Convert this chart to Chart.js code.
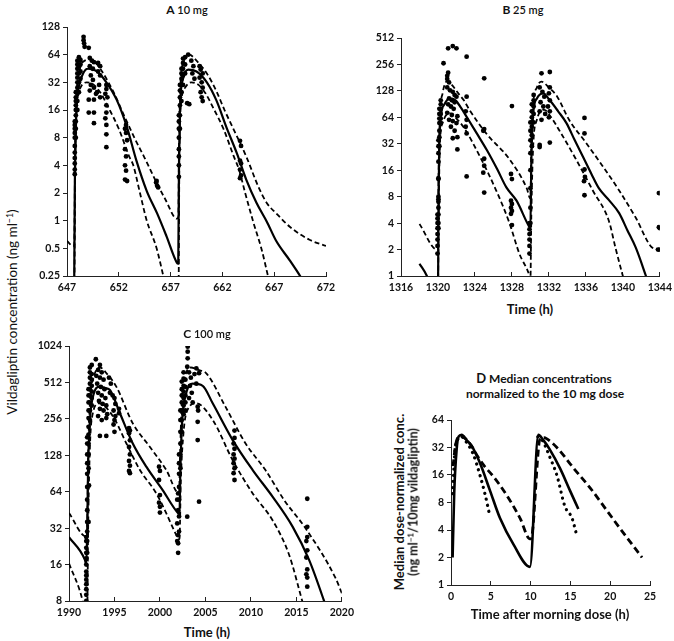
<!DOCTYPE html>
<html>
<head>
<meta charset="utf-8">
<script src="https://cdn.jsdelivr.net/npm/chart.js@4.4.0/dist/chart.umd.min.js"></script>
<style>
  body { margin: 0; background: #fff; }
  #page { position: relative; width: 674px; height: 641px; background: #fff; font-family: Lato, "Open Sans", sans-serif; color: #111; overflow: hidden; }
  .box { position: absolute; }
  .txt { position: absolute; white-space: nowrap; transform: translate(-50%, -50%); font-weight: bold; }
  .rot { transform: translate(-50%, -50%) rotate(-90deg); }
  sup { font-size: 65%; vertical-align: 0.45em; line-height: 0; }
</style>
</head>
<body>
<div id="page">
  <div class="box" id="boxA"><canvas id="chartA"></canvas></div>
  <div class="box" id="boxB"><canvas id="chartB"></canvas></div>
  <div class="box" id="boxC"><canvas id="chartC"></canvas></div>
  <div class="box" id="boxD"><canvas id="chartD"></canvas></div>

  <div class="txt" style="left:187px; top:9px; font-size:11px;"><span style="font-size:12px">A</span> <span style="font-weight:600">10 mg</span></div>
  <div class="txt" style="left:523px; top:9px; font-size:11px;"><span style="font-size:12px">B</span> <span style="font-weight:600">25 mg</span></div>
  <div class="txt" style="left:207px; top:333px; font-size:11px;"><span style="font-size:12px">C</span> <span style="font-weight:600">100 mg</span></div>
  <div class="txt" style="left:544px; top:378px; font-size:12px;"><span style="font-size:13px">D</span> Median concentrations</div>
  <div class="txt" style="left:545px; top:393px; font-size:12px;">normalized to the 10 mg dose</div>

  <div class="txt" style="left:530px; top:309px; font-size:13px;">Time (h)</div>
  <div class="txt" style="left:207px; top:632px; font-size:13px;">Time (h)</div>
  <div class="txt" style="left:550px; top:614px; font-size:13px;">Time after morning dose (h)</div>

  <div class="txt rot" style="left:12px; top:312px; font-size:13.5px; font-weight:normal;">Vildagliptin concentration (ng ml<sup>−1</sup>)</div>
  <div class="txt rot" style="left:399px; top:502px; font-size:13px;">Median dose-normalized conc.</div>
  <div class="txt rot" style="left:413px; top:502px; font-size:12.5px;">(ng ml<sup>−1</sup>/10mg vildagliptin)</div>
</div>

<script>
// ---------- A 10 mg ----------
const xTicksA = [647, 652, 657, 662, 667, 672];
const yTicksA = [0.25, 0.5, 1, 2, 4, 8, 16, 32, 64, 128];

const medianA = [[647.68,0.1],[647.75,2],[647.85,10],[648.0,22],[648.25,32],[648.6,41],[649.0,45],[649.5,44],[649.9,42],
  [650.8,32],[651.8,20.6],[652.8,10.3],[653.7,4.5],[654.7,2.1],[655.7,1.2],[656.6,0.68],[657.6,0.35],[657.74,0.34],
  [657.8,3],[657.9,16],[658.2,35],[658.7,44],[659.5,42],[660.5,32],[661.4,20.6],[662.4,10.3],[663.4,5.4],[664.3,2.8],
  [665.3,1.56],[666.3,0.97],[667.2,0.6],[668.5,0.37],[669.5,0.25],[670,0.2]];
const upperA = [[647,0.6],[647.6,0.53],[647.7,0.55],[647.78,5],[647.9,20],[648.2,42],[648.7,55],[649.3,57],[649.9,50],
  [650.5,40],[651.5,25],[652.5,14],[653.5,8],[654.5,4.8],[655.5,2.8],[656.5,1.7],[657.6,1.05],[657.75,1.1],[657.82,10],
  [657.95,30],[658.3,55],[658.8,64],[659.5,55],[660.5,40],[661.4,26],[662.2,16],[663,10.3],[664.3,5],[665.5,2.3],
  [666.3,1.55],[667.2,1.2],[668.5,0.86],[670.4,0.62],[672,0.53]];
const lowerA = [[647.7,0.1],[647.8,5],[647.95,18],[648.3,28],[648.9,32],[649.6,30],[650.3,24],[651,17],[652,10],[653,5],
  [653.4,4],[654,2.1],[654.7,1.0],[655.65,0.5],[656.3,0.25],[656.6,0.18],[657.75,0.1],[657.85,5],[658.0,18],[658.4,28],
  [659,32],[659.7,30],[660.4,24],[661.1,17],[662.1,10],[663.1,5],[663.6,3.6],[664.2,2.0],[665,0.95],[665.8,0.48],
  [666.4,0.25],[666.7,0.18]];
const obsA = [
  [647.75,3.2],[647.75,3.6],[647.75,4.2],[647.75,4.8],[647.75,5.5],[647.75,6.5],[647.75,8],[647.75,9],[647.75,10],[647.75,11],[647.75,12],
  [647.85,8],[647.85,10],[647.85,12],[647.85,14],[647.85,16],[647.85,18],[647.85,20],[647.85,22],[647.85,25],
  [648.0,16],[648.0,20],[648.0,24],[648.0,28],[648.0,32],[648.0,36],[648.0,40],[648.0,45],[648.0,50],[648.0,55],
  [648.15,25],[648.15,32],[648.15,40],[648.15,48],[648.15,55],[648.15,60],
  [648.3,35],[648.3,42],[648.3,50],[648.3,56],
  [648.6,100],[648.6,92],[648.65,85],[648.7,78],[649.1,76],
  [649.2,59],[649.4,55],[649.6,53],[649.2,48],[649.5,45],[649.3,38],[649.5,34],[649.3,30],[649.6,28],[649.2,26],[649.8,24],
  [649.1,20.7],[649.6,20.7],[649.1,15],[649.6,15],[649.6,11.5],
  [650.0,52],[650.2,48],[650.0,42],[650.2,38],[650.1,30],[649.9,25],[650.2,22],
  [650.8,30],[650.8,27],[650.7,24],[650.9,22],[650.8,18],[650.8,15],[650.7,13],[650.8,11],[650.8,8.7],[650.8,6.3],
  [652.7,11],[652.6,10],[652.7,9],[652.8,7.5],[652.6,6],[652.7,5],[652.6,4],[652.7,3.5],[652.6,2.8],[652.8,2.7],
  [655.6,2.6],[655.7,2.4],[655.8,2.3],[655.65,2.7],
  [657.8,3],[657.8,4],[657.8,5],[657.8,6],[657.8,8],[657.8,10],[657.8,12],[657.8,14],
  [657.9,10],[657.9,14],[657.9,18],[657.9,22],[657.9,26],[657.9,30],
  [658.05,20],[658.05,25],[658.05,30],[658.05,35],[658.05,40],[658.05,45],
  [658.2,30],[658.2,38],[658.2,45],[658.2,52],[658.2,58],
  [658.4,40],[658.4,50],[658.4,60],[658.7,64],[658.6,19],[658.8,18.5],
  [659.0,55],[659.2,48],[659.1,40],[659.3,35],
  [659.8,48],[659.9,44],[660.1,40],[659.8,36],[660.0,32],[660.1,28],[659.9,25],[660.0,22],[660.1,20],
  [663.7,7.4],[663.8,6.5],[663.7,4.5],[663.8,4.2],[663.7,3.6],[663.8,3.1],[663.7,2.9]
];

// ---------- B 25 mg ----------
const xTicksB = [1316, 1320, 1324, 1328, 1332, 1336, 1340, 1344];
const yTicksB = [1, 2, 4, 8, 16, 32, 64, 128, 256, 512];

const medianB = [[1318.0,1.38],[1318.8,1.0],[1319.5,0.6],[1320.0,0.5],[1320.05,5],[1320.15,30],[1320.3,64],[1320.7,90],
  [1321.3,105],[1321.9,100],[1322.5,82],[1323.1,65],[1324.2,42],[1325.3,27],[1326.4,16.5],[1327.4,10.2],[1328.5,7.2],
  [1329.9,3.6],[1330.0,3.5],[1330.1,20],[1330.3,70],[1330.7,105],[1331.4,120],[1332.1,100],[1333.0,75],[1333.9,55],
  [1334.8,35],[1335.7,22.6],[1336.6,14.5],[1337.4,10],[1338.5,7.3],[1339.6,5.2],[1340.5,3.3],[1341.4,2.1],[1342.5,1.0],[1343,0.7]];
const upperB = [[1318.0,3.9],[1319.9,2.0],[1320.0,2.0],[1320.05,10],[1320.2,60],[1320.5,120],[1321.0,165],[1321.5,150],
  [1322.2,120],[1322.8,100],[1323.4,78],[1325.3,41],[1327.7,21.6],[1329.6,10],[1330.0,7.6],[1330.1,30],[1330.3,90],
  [1330.7,140],[1331.2,163],[1332.0,140],[1332.9,110],[1334.2,59.6],[1336.0,33],[1337.8,17.9],[1339.6,9.4],[1341.4,4.6],
  [1343.2,2.1],[1344,2.0]];
const lowerB = [[1320.0,0.5],[1320.08,5],[1320.2,30],[1320.5,55],[1321.3,71],[1322.0,62],[1322.8,49],[1324.5,23.3],
  [1326.3,9.4],[1327.7,4.1],[1328.8,1.8],[1329.9,1.0],[1330.0,0.9],[1330.1,5],[1330.3,30],[1330.7,60],[1331.5,78],
  [1332.2,65],[1333.1,46],[1334.9,21.6],[1336.75,9.4],[1338.5,4.2],[1339.2,2.1],[1340.0,1.0],[1340.4,0.7]];
const obsB = [
  [1319.95,1.8],[1319.95,2.2],[1319.95,2.6],[1319.95,3],[1319.95,3.5],[1319.95,4],[1319.95,4.5],[1319.95,5],
  [1320.05,3.5],[1320.05,4],[1320.05,5],[1320.05,6],[1320.05,7],[1320.05,7.5],[1320.05,8],[1320.05,12.7],[1320.05,13],
  [1320.05,20],[1320.05,25],[1320.05,30],[1320.05,35],
  [1320.15,30],[1320.15,38],[1320.15,45],[1320.15,55],[1320.15,62],[1320.15,70],[1320.15,80],
  [1320.3,55],[1320.3,62],[1320.3,70],[1320.3,80],[1320.3,90],[1320.3,100],
  [1320.6,264],[1321.1,391],[1321.6,414],[1322.0,391],[1323.1,314],[1321.1,206],[1321.0,190],[1321.0,175],[1321.2,160],
  [1321.0,140],[1321.3,130],[1321.6,125],[1321.8,115],[1322.0,110],[1321.2,105],[1321.5,100],[1321.8,95],[1321.1,90],
  [1321.4,85],[1321.7,80],[1321.0,72],[1321.5,68],[1322.1,66],[1321.2,60],[1321.6,58],[1322.0,55],[1321.4,50],[1321.8,45],
  [1321.6,37],[1322.1,38],[1322.1,27.6],
  [1323.1,110],[1323.0,75],[1323.1,60],[1323.0,50],[1323.1,42],[1323.1,13.6],
  [1325.0,178],[1325.0,47],[1324.9,45],[1325.0,21.6],[1325.0,18],[1324.9,15],[1325.0,8.9],
  [1328.0,86],[1327.9,14.5],[1328.0,12.7],[1327.9,7.2],[1328.0,6.6],[1327.9,6.0],[1328.0,5.5],[1327.9,5.1],[1328.0,3.8],
  [1329.9,1.8],[1329.9,2.2],[1329.9,2.6],[1329.9,3],[1329.9,3.4],[1329.9,4],
  [1330.0,4],[1330.0,6],[1330.0,10],[1330.0,16],[1330.0,25],[1330.0,35],[1330.0,45],[1330.0,56],
  [1330.15,30],[1330.15,40],[1330.15,50],[1330.15,56],[1330.15,64],[1330.15,75],[1330.15,90],
  [1330.35,56],[1330.35,70],[1330.35,85],[1330.35,100],[1330.35,115],
  [1331.2,203],[1332.1,210],[1331.0,140],[1331.3,125],[1331.5,110],[1331.1,95],[1331.4,85],[1331.0,75],[1331.6,70],
  [1331.2,60],[1331.0,29.4],[1331.0,31],[1332.1,140],[1332.0,120],[1332.1,100],[1331.9,85],[1332.1,75],[1332.0,64],[1332.1,33],
  [1335.85,63],[1335.85,42],[1335.85,16.3],[1335.9,13.4],[1335.8,12],[1335.85,8.3],
  [1343.9,8.8],[1343.9,3.6],[1344.0,3.5],[1343.8,2.0],[1344.0,2.0]
];

// ---------- C 100 mg ----------
const xTicksC = [1990, 1995, 2000, 2005, 2010, 2015, 2020];
const yTicksC = [8, 16, 32, 64, 128, 256, 512, 1024];

const medianC = [[1990,27],[1991.75,17.5],[1991.9,16],[1992.0,30],[1992.1,100],[1992.3,250],[1992.6,380],[1993.4,473],
  [1994.0,460],[1994.5,443],[1995.6,285],[1997,161],[1998.5,103],[2000.3,66],[2002.0,42.6],[2002.15,42],[2002.25,100],
  [2002.45,250],[2002.9,420],[2003.6,500],[2004.7,480],[2005.8,344],[2008,171],[2010.2,96.6],[2012.4,58],[2014.6,32.8],
  [2016.4,17.5],[2018,8.2],[2018.3,7]];
const upperC = [[1990,42.6],[1991.9,27.2],[1992.0,30],[1992.1,120],[1992.3,350],[1992.7,560],[1993.4,680],[1994.2,600],
  [1995.2,473],[1997,236],[1998.9,150],[2000.7,96.6],[2002.1,62],[2002.2,120],[2002.4,350],[2002.8,580],[2003.4,680],
  [2004.2,650],[2005.1,609],[2007.2,323],[2009.4,161],[2011.6,96.6],[2013.7,54],[2015.9,32.8],[2019.3,12.4],[2020.2,8.5]];
const lowerC = [[1990,16.4],[1991.5,8.0],[1991.8,6],[1992.0,6],[1992.1,30],[1992.3,150],[1992.6,280],[1993.3,344],
  [1994.85,267],[1996.3,161],[1997.8,96.6],[1999.6,62],[2001.8,28],[2002.0,26],[2002.15,26],[2002.3,80],[2002.6,200],
  [2003.0,300],[2004.0,344],[2005.8,251],[2008,116.5],[2010.2,62],[2012.4,37],[2014.2,19.3],[2015.65,8],[2016,6.5]];
const obsC = [
  [1991.9,8],[1991.9,9],[1991.9,10],[1991.9,11],[1991.9,12],[1991.9,13],[1991.9,14],[1991.9,16],[1991.9,18],[1991.9,20],
  [1991.9,22],[1991.9,25],[1991.9,27],
  [1992.0,20],[1992.0,25],[1992.0,30],[1992.0,36],[1992.0,45],[1992.0,55],[1992.0,70],[1992.0,90],[1992.0,110],[1992.0,130],
  [1992.0,160],[1992.0,180],
  [1992.15,100],[1992.15,130],[1992.15,160],[1992.15,190],[1992.15,220],[1992.15,260],[1992.15,300],[1992.15,350],
  [1992.15,400],[1992.15,450],[1992.2,72],[1992.15,36],
  [1992.3,250],[1992.3,300],[1992.3,350],[1992.3,400],[1992.3,450],[1992.3,500],[1992.3,560],[1992.3,620],[1992.3,680],
  [1992.5,330],[1992.5,380],[1992.5,430],[1992.5,480],[1992.5,540],[1992.5,600],[1992.5,715],
  [1992.95,796],[1993.4,715],[1993.2,650],[1993.6,620],[1993.0,580],[1993.4,560],[1993.8,540],[1993.1,500],[1993.5,470],
  [1993.9,450],[1993.2,420],[1993.6,400],[1994.0,380],[1993.3,360],[1993.7,340],[1994.1,330],[1993.4,310],[1993.8,300],
  [1994.2,280],[1993.2,270],[1993.6,250],[1994.1,260],[1993.4,185],[1994.1,185],[1994.4,560],[1994.6,500],[1994.5,420],
  [1994.8,400],[1995.0,380],[1995.1,340],[1994.9,300],[1995.0,250],[1995.1,270],[1994.9,230],[1995.0,200],[1995.5,310],[1995.5,285],
  [1996.6,215],[1996.7,205],[1996.6,195],[1996.7,170],[1996.6,150],[1996.7,130],[1996.6,115],[1996.7,105],[1996.6,95],[1996.7,91],
  [1999.9,103],[2000.0,95],[1999.9,80],[2000.0,60],[1999.9,52],[2000.0,48],[2000.0,43],
  [2002.0,62],[2001.9,55],[2002.0,45],[2001.9,35],[2002.0,28],[2001.9,25],[2002.0,24],[2002.0,20],
  [2002.1,30],[2002.1,40],[2002.1,55],[2002.1,70],[2002.1,90],[2002.1,110],[2002.1,130],
  [2002.25,100],[2002.25,130],[2002.25,160],[2002.25,200],[2002.25,250],[2002.25,300],
  [2002.4,200],[2002.4,250],[2002.4,300],[2002.4,350],[2002.4,400],[2002.4,450],[2002.4,520],
  [2002.6,280],[2002.6,330],[2002.6,380],[2002.6,430],[2002.6,480],[2002.6,550],[2002.6,620],
  [2002.8,300],[2002.8,350],[2002.8,400],[2002.8,470],[2002.8,540],
  [2003.05,1010],[2003.05,920],[2003.05,810],[2003.0,690],[2004.0,670],[2004.3,610],[2003.2,620],[2003.4,560],[2003.3,480],
  [2003.5,420],[2003.2,380],[2003.6,350],[2004.15,323],[2004.2,300],[2004.15,242],[2004.15,171],[2004.3,53],[2003.0,39.8],
  [2003.8,600],[2004.0,500],
  [2008.2,205],[2008.2,178],[2008.1,160],[2008.2,145],[2008.1,130],[2008.2,120],[2008.1,110],[2008.2,100],[2008.1,91],[2008.2,80],
  [2016.2,56],[2016.2,32.8],[2016.2,27],[2016.1,25],[2016.2,21],[2016.1,18.3],[2016.2,14.6],[2016.1,13.3],[2016.2,12.5],[2016.2,10.5]
];

// ---------- D median, normalized to 10 mg ----------
const xTicksD = [0, 5, 10, 15, 20, 25];
const yTicksD = [1, 2, 4, 8, 16, 32, 64];

const solidD = [[0.2,2.0],[0.4,10],[0.7,30],[0.95,42],[1.34,44],[1.97,38.5],[2.6,33.3],[3.64,21.6],[4.9,10.8],[6.15,5.4],
  [7.83,2.8],[9.92,1.58],[10.97,44],[11.6,38.5],[12.4,30.5],[13.7,18.9],[14.95,10.8],[16.0,6.8]];
const dashedD = [[0.25,20],[0.6,35],[1.1,43],[1.8,40],[2.5,34],[3.3,26],[4.2,20],[5.3,15.5],[7.0,9.6],[8.67,5.4],[9.92,3.2],
  [10.05,3.2],[11.2,40],[11.7,41],[12.0,40],[13.3,32],[15.4,19],[17.5,11.5],[19.6,6.5],[21.2,4.2],[24.0,2.0]];
const dottedD1 = [[0.2,10],[0.5,30],[0.9,40],[1.3,42],[1.9,37],[2.8,27],[3.64,15.9],[4.27,9.9],[4.9,5.6]];
const dottedD2 = [[10.9,42],[11.5,38],[12.4,25.3],[13.3,15.9],[14.3,7.3],[15.2,5.4],[15.8,3.5]];

// ---------- helpers ----------
Chart.defaults.font.family = 'Lato, "Open Sans", sans-serif';
const tickFont = { size: 10.5, weight: 'bold' };

function pts(arr) { return arr.map(p => ({ x: p[0], y: p[1] })); }

function obs(arr) {
  return { data: pts(arr), showLine: false, pointRadius: 2.4, pointBackgroundColor: '#000', pointBorderWidth: 0 };
}

function curve(arr, dash, w) {
  return {
    data: pts(arr), showLine: true, pointRadius: 0, borderColor: '#000', borderWidth: w || 2,
    borderDash: dash || [], cubicInterpolationMode: 'monotone', borderCapStyle: 'butt'
  };
}

function axisX(ticks) {
  return {
    type: 'linear', min: ticks[0], max: ticks[ticks.length - 1],
    afterBuildTicks: s => { s.ticks = ticks.map(v => ({ value: v })); },
    afterFit: s => { s.height = 22; },
    grid: { display: true, drawOnChartArea: false, drawTicks: true, tickLength: -4, color: '#222' },
    border: { display: true, color: '#222', width: 1 },
    ticks: { padding: 9, color: '#111', font: tickFont, maxRotation: 0, autoSkip: false, callback: v => String(v) }
  };
}

function axisY(ticks) {
  return {
    type: 'logarithmic', min: ticks[0], max: ticks[ticks.length - 1],
    afterBuildTicks: s => { s.ticks = ticks.map(v => ({ value: v })); },
    afterFit: s => { s.width = 40; },
    grid: { display: true, drawOnChartArea: false, drawTicks: true, tickLength: 4, color: '#222' },
    border: { display: true, color: '#222', width: 1 },
    ticks: { padding: 3, color: '#111', font: tickFont, autoSkip: false, callback: v => String(v) }
  };
}

function panel(id, box, L, T, R, B, xTicks, yTicks, datasets) {
  const el = document.getElementById(box);
  el.style.left = (L - 40) + 'px';
  el.style.top = (T - 10) + 'px';
  el.style.width = (R - L + 60) + 'px';
  el.style.height = (B - T + 32) + 'px';
  return new Chart(document.getElementById(id), {
    type: 'scatter',
    data: { datasets: datasets },
    options: {
      responsive: true, maintainAspectRatio: false, animation: false,
      layout: { padding: { left: 0, top: 10, right: 20, bottom: 0 } },
      plugins: { legend: { display: false }, tooltip: { enabled: false } },
      scales: { x: axisX(xTicks), y: axisY(yTicks) }
    }
  });
}

panel('chartA', 'boxA', 67, 27, 326, 276, xTicksA, yTicksA, [
  obs(obsA), curve(medianA, [], 2.2), curve(upperA, [5, 3], 1.8), curve(lowerA, [5, 3], 1.8)
]);
panel('chartB', 'boxB', 401, 38, 661, 276, xTicksB, yTicksB, [
  obs(obsB), curve(medianB, [], 2.2), curve(upperB, [5, 3], 1.8), curve(lowerB, [5, 3], 1.8)
]);
panel('chartC', 'boxC', 69, 346, 343, 601, xTicksC, yTicksC, [
  obs(obsC), curve(medianC, [], 2.2), curve(upperC, [5, 3], 1.8), curve(lowerC, [5, 3], 1.8)
]);
const dotted = a => Object.assign(curve(a, [0.1, 6], 3.2), { borderCapStyle: 'round' });
panel('chartD', 'boxD', 451, 420, 650, 585, xTicksD, yTicksD, [
  curve(solidD, [], 2.6), curve(dashedD, [7, 4], 2.8), dotted(dottedD1), dotted(dottedD2)
]);
</script>
</body>
</html>
